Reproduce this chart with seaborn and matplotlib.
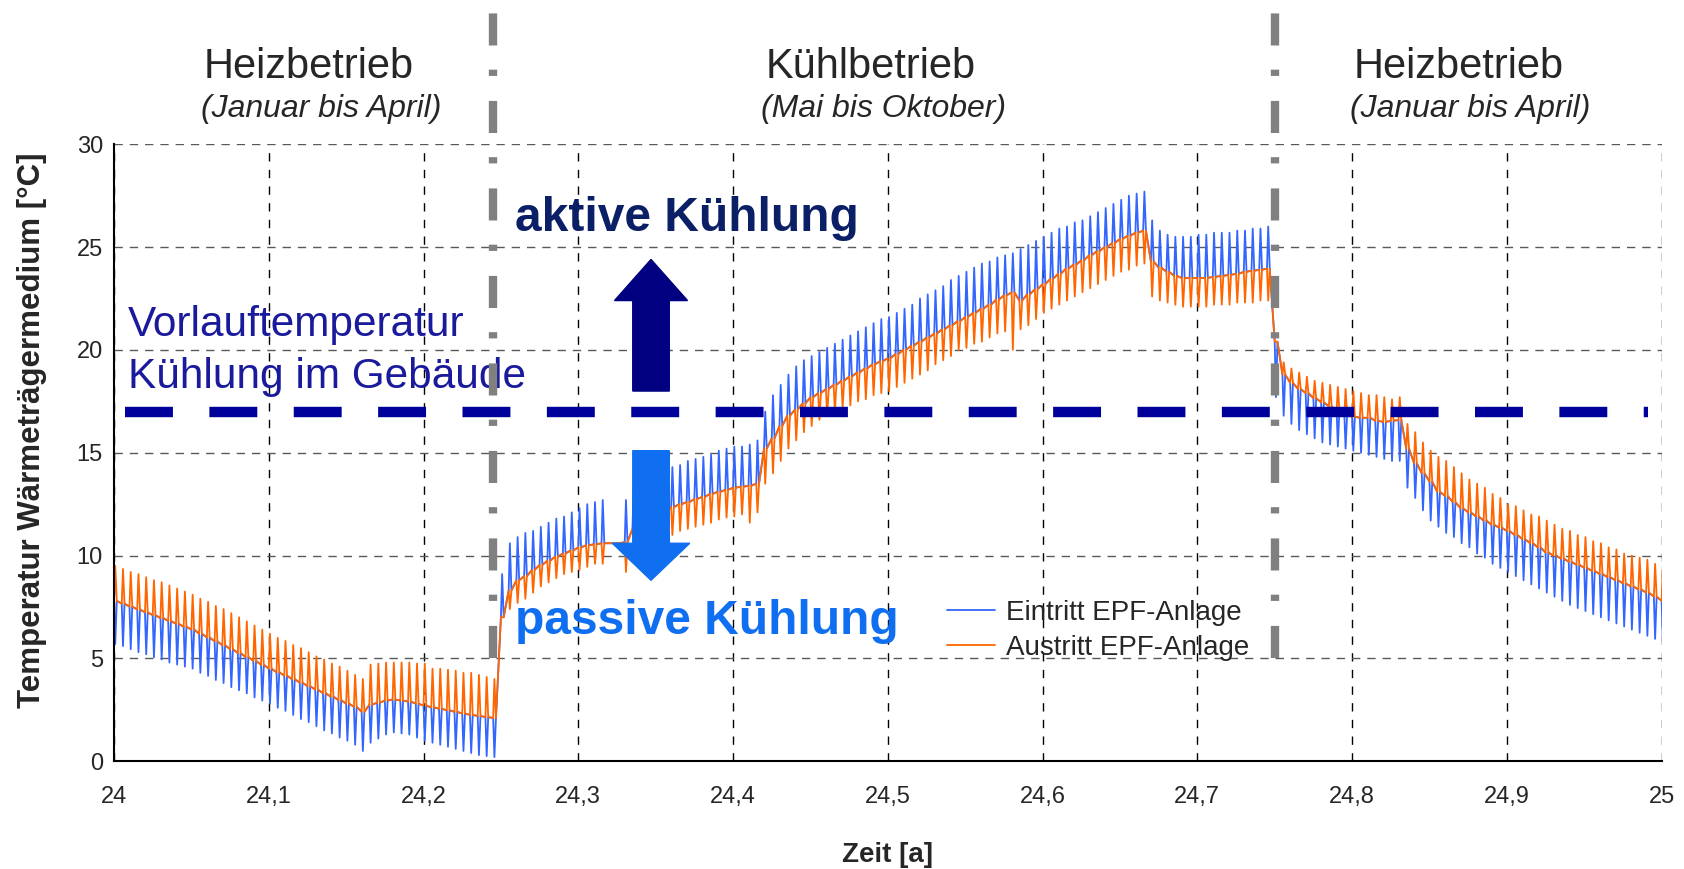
import numpy as np
import pandas as pd
import seaborn as sns
import matplotlib.pyplot as plt
from matplotlib.patches import Polygon

# time grid (years), one sample every 0.005 a
zeit = np.round(np.linspace(24.0, 25.0, 201), 3)

# base line where both curves meet
heiz1_base = [7.8, 7.66, 7.52, 7.38, 7.24, 7.1, 6.96, 6.82, 6.68, 6.54,
              6.4, 6.2, 6.02, 5.83, 5.64, 5.45, 5.26, 5.07, 4.88, 4.69,
              4.5, 4.33, 4.16, 3.99, 3.82, 3.65, 3.48, 3.31, 3.14, 2.97,
              2.8, 2.65, 2.4, 2.75, 2.85, 2.95, 3.0, 2.95, 2.9, 2.8,
              2.7, 2.62, 2.55, 2.48, 2.4, 2.32, 2.25, 2.2, 2.15, 2.1]
kuehl_base = [7.0, 8.3, 8.8, 9.0, 9.3, 9.55, 9.75, 9.95, 10.1, 10.25,
              10.4, 10.5, 10.55, 10.6, 10.6, 10.6, 10.65, 11.3, 11.6, 11.85,
              12.05, 12.2, 12.35, 12.5, 12.6, 12.75, 12.85, 13.0, 13.1, 13.2,
              13.3, 13.35, 13.4, 13.5, 15.2, 15.7, 16.3, 16.8, 17.1, 17.4,
              17.7, 17.9, 18.1, 18.3, 18.5, 18.7, 18.9, 19.1, 19.3, 19.45,
              19.6, 19.8, 20.0, 20.2, 20.4, 20.6, 20.8, 21.0, 21.2, 21.4,
              21.6, 21.8, 22.0, 22.2, 22.45, 22.65, 22.8, 22.4, 22.7, 22.95,
              23.2, 23.45, 23.7, 23.95, 24.15, 24.35, 24.6, 24.8, 25.0, 25.2,
              25.4, 25.55, 25.7, 25.8, 24.3, 24.0, 23.8, 23.6, 23.5, 23.5,
              23.5, 23.5, 23.55, 23.6, 23.65, 23.7, 23.8, 23.85, 23.9, 23.95]
heiz2_base = [20.4, 18.8, 18.4, 18.1, 17.9, 17.65, 17.45, 17.25, 17.05, 16.85,
              16.75, 16.7, 16.7, 16.55, 16.5, 16.55, 16.6, 15.2, 14.5, 14.0,
              13.6, 13.1, 12.9, 12.6, 12.3, 12.1, 11.9, 11.7, 11.5, 11.35,
              11.2, 11.0, 10.8, 10.6, 10.4, 10.15, 10.0, 9.85, 9.7, 9.55,
              9.4, 9.25, 9.1, 8.95, 8.8, 8.65, 8.5, 8.35, 8.2, 8.0, 7.8]

# spike extremes of the outlet (Austritt, orange)
heiz1_austritt = [9.5, 9.35, 9.2, 9.1, 8.95, 8.8, 8.7, 8.55, 8.4, 8.25,
                  8.1, 7.9, 7.75, 7.55, 7.4, 7.2, 7.0, 6.8, 6.6, 6.4,
                  6.2, 6.0, 5.85, 5.65, 5.5, 5.3, 5.1, 4.95, 4.75, 4.6,
                  4.4, 4.2, 4.0, 4.7, 4.75, 4.8, 4.8, 4.8, 4.8, 4.75,
                  4.75, 4.5, 4.5, 4.45, 4.4, 4.3, 4.3, 4.2, 4.1, 4.0]
kuehl_austritt = [7.0, 7.4, 7.7, 7.9, 8.2, 8.5, 8.7, 8.9, 9.1, 9.2,
                  9.3, 9.45, 9.6, 9.6, 10.6, 10.6, 9.2, 10.9, 11.0, 11.1,
                  11.0, 10.9, 11.0, 11.2, 11.3, 11.4, 11.5, 11.6, 11.75, 11.85,
                  11.9, 12.0, 11.6, 12.1, 13.5, 14.0, 14.6, 15.2, 15.6, 16.0,
                  16.3, 16.6, 16.8, 17.0, 17.2, 17.3, 17.5, 17.6, 17.8, 17.9,
                  18.0, 18.2, 18.4, 18.6, 18.8, 19.0, 19.3, 19.5, 19.7, 20.0,
                  20.1, 20.3, 20.4, 20.6, 20.8, 20.9, 20.0, 21.0, 21.2, 21.5,
                  21.8, 22.0, 22.2, 22.4, 22.6, 22.8, 23.0, 23.2, 23.4, 23.6,
                  23.8, 23.9, 24.1, 24.2, 22.6, 22.4, 22.3, 22.2, 22.1, 22.1,
                  22.1, 22.1, 22.2, 22.2, 22.2, 22.3, 22.3, 22.3, 22.4, 22.4]
heiz2_austritt = [20.4, 19.4, 19.1, 18.9, 18.7, 18.5, 18.4, 18.3, 18.2, 18.1,
                  18.0, 17.9, 17.8, 17.8, 17.7, 17.6, 17.7, 16.4, 16.0, 15.5,
                  15.1, 14.8, 14.6, 14.3, 14.0, 13.7, 13.5, 13.3, 13.0, 12.8,
                  12.5, 12.4, 12.2, 12.0, 11.9, 11.7, 11.5, 11.3, 11.2, 11.0,
                  10.9, 10.7, 10.6, 10.4, 10.3, 10.1, 10.0, 9.9, 9.8, 9.6, 9.5]

# spike extremes of the inlet (Eintritt, blue)
heiz1_eintritt = [5.7, 5.6, 5.45, 5.3, 5.2, 5.05, 4.95, 4.8, 4.7, 4.6,
                  4.5, 4.3, 4.15, 3.95, 3.8, 3.6, 3.45, 3.3, 3.1, 2.95,
                  2.8, 2.6, 2.45, 2.25, 2.05, 1.9, 1.7, 1.5, 1.35, 1.15,
                  1.0, 0.8, 0.5, 0.9, 1.1, 1.3, 1.4, 1.35, 1.3, 1.15,
                  1.0, 0.9, 0.8, 0.7, 0.6, 0.5, 0.4, 0.3, 0.25, 0.2]
kuehl_eintritt = [9.1, 10.6, 10.9, 11.1, 11.2, 11.4, 11.6, 11.8, 11.9, 12.1,
                  12.3, 12.5, 12.6, 12.7, 10.6, 10.6, 12.7, 13.3, 13.6, 13.8,
                  14.0, 14.2, 14.3, 14.4, 14.6, 14.7, 14.8, 14.9, 15.1, 15.2,
                  15.3, 15.3, 15.4, 15.6, 17.0, 17.8, 18.3, 18.8, 19.2, 19.5,
                  19.7, 19.9, 20.1, 20.3, 20.5, 20.7, 20.9, 21.1, 21.3, 21.5,
                  21.6, 21.8, 22.0, 22.2, 22.5, 22.7, 22.9, 23.1, 23.4, 23.6,
                  23.8, 24.0, 24.2, 24.3, 24.5, 24.6, 24.7, 24.9, 25.1, 25.3,
                  25.5, 25.7, 25.9, 26.0, 26.2, 26.3, 26.5, 26.7, 26.9, 27.1,
                  27.3, 27.5, 27.6, 27.7, 26.3, 25.8, 25.6, 25.5, 25.5, 25.5,
                  25.6, 25.6, 25.7, 25.7, 25.7, 25.8, 25.8, 25.9, 25.9, 26.0]
heiz2_eintritt = [17.7, 16.8, 16.4, 16.1, 15.9, 15.7, 15.5, 15.4, 15.3, 15.2,
                  15.1, 15.0, 14.9, 14.8, 14.7, 14.6, 14.6, 13.3, 12.8, 12.2,
                  11.7, 11.4, 11.1, 10.9, 10.6, 10.4, 10.1, 9.9, 9.6, 9.4,
                  9.2, 9.0, 8.8, 8.6, 8.4, 8.2, 8.0, 7.8, 7.6, 7.45,
                  7.3, 7.15, 7.0, 6.85, 6.7, 6.55, 6.4, 6.25, 6.1, 5.95, 5.8]

serien = ["Eintritt EPF-Anlage", "Austritt EPF-Anlage"]
farben = ["#3366ff", "#ff6600"]

x_ticks = [24.0, 24.1, 24.2, 24.3, 24.4, 24.5, 24.6, 24.7, 24.8, 24.9, 25.0]
x_ticklabels = ["24", "24,1", "24,2", "24,3", "24,4", "24,5", "24,6", "24,7", "24,8", "24,9", "25"]
y_ticks = [0, 5, 10, 15, 20, 25, 30]

betrieb_grenzen = [24.245, 24.75]
vorlauf_kuehlung = 17.0

base = heiz1_base + kuehl_base + heiz2_base
peaks = {
    serien[0]: heiz1_eintritt + kuehl_eintritt + heiz2_eintritt,
    serien[1]: heiz1_austritt + kuehl_austritt + heiz2_austritt,
}

# each sample becomes a short spike away from the base line
rows = []
for name in serien:
    for t, b, p in zip(zeit, base, peaks[name]):
        rows.append((name, t, b))
        rows.append((name, t + 0.0008, p))
        rows.append((name, t + 0.0018, b))
df = pd.DataFrame(rows, columns=["Serie", "Zeit", "Temperatur"])

sns.set_style("white")
plt.rcParams["font.family"] = ["Liberation Sans", "DejaVu Sans"]

fig = plt.figure(figsize=(16.84, 8.69), dpi=100)
ax = fig.add_axes([0.0677, 0.124, 0.919, 0.710])

sns.lineplot(data=df, x="Zeit", y="Temperatur", hue="Serie", hue_order=serien,
             palette=farben, sort=False, estimator=None, linewidth=1.3, ax=ax)

ax.set_xlim(24, 25)
ax.set_ylim(0, 30)
ax.set_xticks(x_ticks)
ax.set_xticklabels(x_ticklabels)
ax.set_yticks(y_ticks)
ax.set_xticks(np.arange(24, 25.001, 0.02), minor=True)
ax.set_yticks(np.arange(0, 30.1, 1), minor=True)
ax.tick_params(axis="both", which="major", direction="inout", length=10, width=1, labelsize=17)
ax.tick_params(axis="x", which="major", pad=13)
ax.tick_params(axis="y", which="major", pad=3)
ax.tick_params(axis="both", which="minor", direction="in", length=5, width=1)
ax.grid(True, axis="y", which="major", color="0.35", linestyle=(0, (6, 5)), linewidth=1)
ax.grid(True, axis="x", which="major", color="black", linestyle=(0, (6, 6)), linewidth=1)
for side in ["top", "right"]:
    ax.spines[side].set_visible(False)
for side in ["left", "bottom"]:
    ax.spines[side].set_color("black")
    ax.spines[side].set_linewidth(1.5)

ax.set_xlabel("Zeit [a]", fontsize=20, fontweight="bold", labelpad=24)
ax.set_ylabel("Temperatur Wärmeträgermedium [°C]", fontsize=22.5, fontweight="bold")
ax.yaxis.set_label_coords(-0.043, 0.537)

# cooling supply temperature in the building
ax.axhline(vorlauf_kuehlung, xmin=0.007, xmax=0.991, color="#00009a", linewidth=7.5,
           linestyle=(0, (4.6, 3.5)), zorder=5)

# borders between heating and cooling operation
for g in betrieb_grenzen:
    ax.plot([g, g], [5.0, 36.6], color="#808080", linewidth=6,
            linestyle=(0, (3.85, 3.0, 0.75, 2.9)), clip_on=False, zorder=6)

# arrows
xc = 24.347
up = [(xc - 0.0118, 18.0), (xc + 0.0118, 18.0), (xc + 0.0118, 22.4), (xc + 0.0236, 22.4),
      (xc, 24.4), (xc - 0.0236, 22.4), (xc - 0.0118, 22.4)]
down = [(xc - 0.0118, 15.1), (xc + 0.0118, 15.1), (xc + 0.0118, 10.6), (xc + 0.025, 10.6),
        (xc, 8.8), (xc - 0.025, 10.6), (xc - 0.0118, 10.6)]
ax.add_patch(Polygon(up, closed=True, color="#000080", zorder=7))
ax.add_patch(Polygon(down, closed=True, color="#0f6ff0", zorder=7))

ax.text(24.259, 26.4, "aktive Kühlung", fontsize=34.5, fontweight="bold", color="#0b1f66",
        va="center", ha="left", zorder=8)
ax.text(24.259, 6.8, "passive Kühlung", fontsize=34.5, fontweight="bold", color="#0f6ff0",
        va="center", ha="left", zorder=8)
ax.text(24.009, 21.2, "Vorlauftemperatur", fontsize=30.5, color="#1a1a9c", va="center", ha="left")
ax.text(24.009, 18.7, "Kühlung im Gebäude", fontsize=30.5, color="#1a1a9c", va="center", ha="left")

# operation periods above the plot
for xt, xs, titel, zeitraum in [(24.126, 24.134, "Heizbetrieb", "(Januar bis April)"),
                               (24.489, 24.4975, "Kühlbetrieb", "(Mai bis Oktober)"),
                               (24.869, 24.876, "Heizbetrieb", "(Januar bis April)")]:
    ax.text(xt, 33.75, titel, fontsize=30, ha="center", va="center", clip_on=False)
    ax.text(xs, 31.7, zeitraum, fontsize=23, style="italic", ha="center", va="center", clip_on=False)

handles, labels = ax.get_legend_handles_labels()
ax.legend(handles, labels, loc="upper left", bbox_to_anchor=(0.538, 0.262), frameon=False,
          fontsize=20, handlelength=1.75, handletextpad=0.38, labelspacing=0.33,
          borderpad=0, borderaxespad=0)

fig.savefig("out.png", dpi=100)
